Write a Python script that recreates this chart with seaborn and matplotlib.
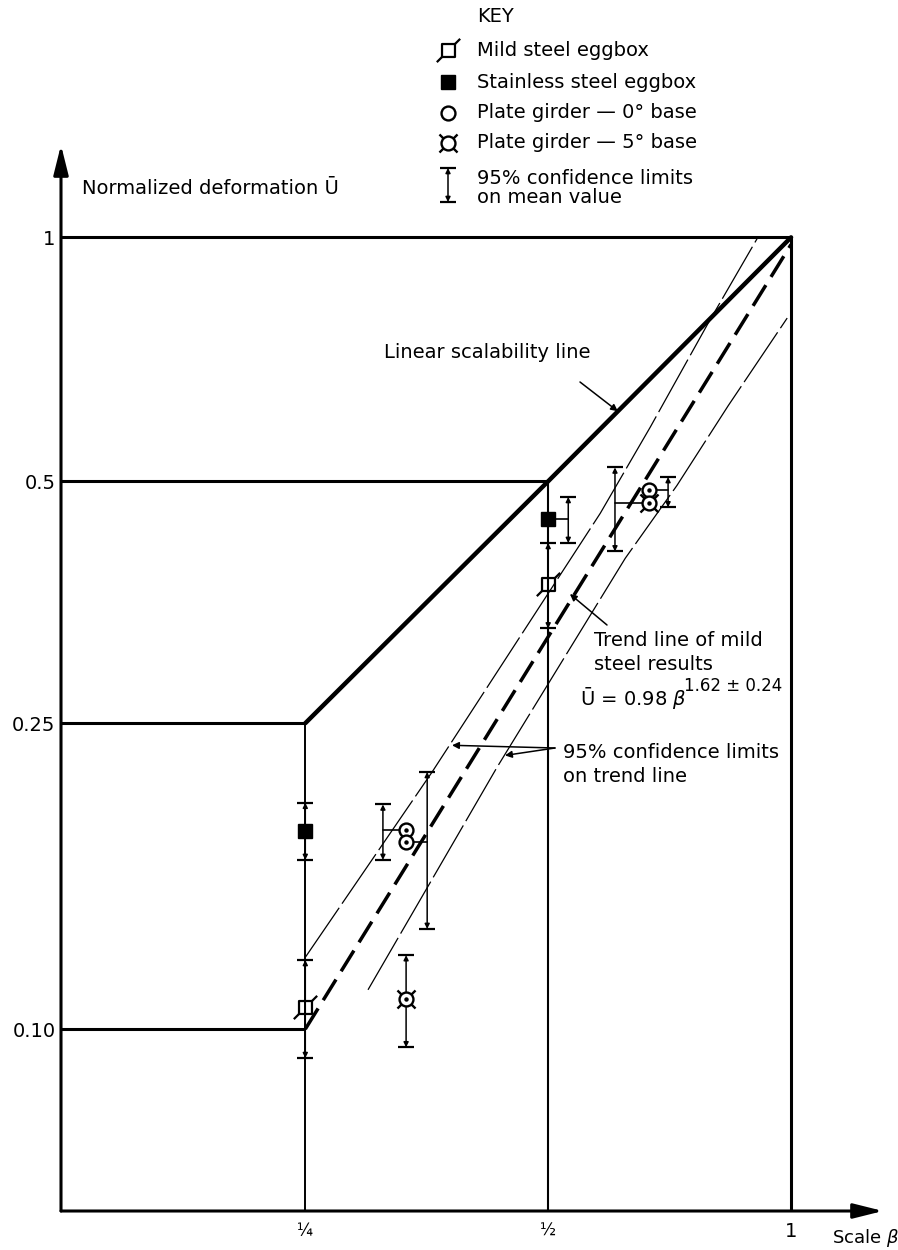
import numpy as np
import matplotlib
matplotlib.use("Agg")
import matplotlib.pyplot as plt
from matplotlib.path import Path
import seaborn as sns

sns.set_style("white")
plt.rcParams["font.family"] = ["DejaVu Sans"]
plt.rcParams["mathtext.fontset"] = "dejavusans"
plt.rcParams["text.color"] = "black"

# frame of the diagram
guide_u = [1.0, 0.5, 0.25, 0.10]
guide_u_stop = [1.0, 0.5, 0.25, 0.25]
guide_beta = [0.25, 0.5, 1.0]

linear_beta = [0.25, 0.5, 1.0]
linear_u = [0.25, 0.5, 1.0]

trend_beta = [0.25, 1.0]
trend_u = [0.10, 0.98]

# 95% limits on the trend line
upper_beta = [0.25, 0.359, 0.580, 0.669, 0.789, 0.908]
upper_u = [0.124, 0.216, 0.456, 0.583, 0.783, 0.997]
lower_beta = [0.299, 0.432, 0.623, 0.722, 0.836, 0.989]
lower_u = [0.1125, 0.219, 0.401, 0.494, 0.620, 0.795]

# results: point, then scale where its 95% bar is drawn and the bar limits
mild_beta = [0.25, 0.5]
mild_u = [0.107, 0.372]
mild_ci_beta = [0.25, 0.5]
mild_ci_lo = [0.0917, 0.328]
mild_ci_hi = [0.123, 0.419]

stain_beta = [0.25, 0.5]
stain_u = [0.181, 0.449]
stain_ci_beta = [0.25, 0.5295]
stain_ci_lo = [0.166, 0.419]
stain_ci_hi = [0.197, 0.478]

pg0_beta = [1 / 3, 1 / 3, 2 / 3]
pg0_u = [0.1815, 0.175, 0.4875]
pg0_ci_beta = [0.312, 0.354, 0.704]
pg0_ci_lo = [0.166, 0.135, 0.464]
pg0_ci_hi = [0.196, 0.216, 0.506]

pg5_beta = [1 / 3, 2 / 3]
pg5_u = [0.1094, 0.4695]
pg5_ci_beta = [1 / 3, 0.605]
pg5_ci_lo = [0.0947, 0.409]
pg5_ci_hi = [0.1248, 0.520]

x_ticks = [0.25, 0.5, 1.0]
x_tick_labels = ["¼", "½", "1"]
y_ticks = [0.10, 0.25, 0.5, 1.0]
y_tick_labels = ["0.10", "0.25", "0.5", "1"]

key_labels = ["Mild steel eggbox", "Stainless steel eggbox",
              "Plate girder — 0° base", "Plate girder — 5° base",
              "95% confidence limits\non mean value"]

# the hand drawn U axis is not a clean log scale: piecewise log
Y_LOG = np.array([-2.0, -1.0, np.log10(0.25), np.log10(0.5), 0.0, 1.0])
Y_POS = np.array([-1798.0, -1029.0, -723.0, -481.0, -237.0, 573.6])


def fwd(u):
    return np.interp(np.log10(np.clip(u, 1e-6, None)), Y_LOG, Y_POS)


def inv(p):
    return 10 ** np.interp(p, Y_POS, Y_LOG)


M, L, C = Path.MOVETO, Path.LINETO, Path.CLOSEPOLY
mild_marker = Path([(-1, -1), (1, -1), (1, 1), (-1, 1), (-1, -1),
                    (-1.8, -1.8), (-1, -1), (1, 1), (1.8, 1.8)],
                   [M, L, L, L, C, M, L, M, L])
spoke_marker = Path([(-1, -1), (-.55, -.55), (1, 1), (.55, .55),
                     (-1, 1), (-.55, .55), (1, -1), (.55, -.55)],
                    [M, L] * 4)

W, H = 898, 1250
fig = plt.figure(figsize=(W / 100, H / 100), dpi=100)
ax = fig.add_axes([61 / W, 39 / H, 822 / W, 1066 / H])
ax.set_xscale("log", base=2)
ax.set_yscale("function", functions=(fwd, inv))

# overlay in pixel coordinates for the free text
kax = fig.add_axes([0, 0, 1, 1])
kax.set_xlim(0, W)
kax.set_ylim(H, 0)
kax.axis("off")
kax.patch.set_alpha(0)

# frame lines
for u, stop in zip(guide_u, guide_u_stop):
    ax.plot([0.1245, stop], [u, u], color="k", lw=2.2, solid_capstyle="butt", zorder=1)
for b, w in zip(guide_beta, [1.4, 1.5, 2.2]):
    ax.plot([b, b], [0.058, b], color="k", lw=w, solid_capstyle="butt", zorder=1)

sns.lineplot(x=linear_beta, y=linear_u, ax=ax, color="k", lw=3.2,
             sort=False, estimator=None, zorder=2)
sns.lineplot(x=trend_beta, y=trend_u, ax=ax, color="k", lw=2.5,
             sort=False, estimator=None, linestyle=(0, (7, 2.8)), zorder=2)
for bb, uu in [(upper_beta, upper_u), (lower_beta, lower_u)]:
    sns.lineplot(x=bb, y=uu, ax=ax, color="k", lw=0.9, sort=False,
                 estimator=None, linestyle=(0, (48, 4)), zorder=2)


def bars(pb, pu, cb, lo, hi):
    for b, u, x, l, h in zip(pb, pu, cb, lo, hi):
        if abs(x - b) > 1e-6:
            ax.plot([b, x], [u, u], color="k", lw=1.2, zorder=3)
        ax.annotate("", xy=(x, h), xytext=(x, l), xycoords="data",
                    arrowprops=dict(arrowstyle="<|-|>", color="k", lw=1.1,
                                    mutation_scale=7, shrinkA=0, shrinkB=0),
                    zorder=3)
        ax.plot([x, x], [l, h], ls="none", marker="_", ms=11, mew=1.6,
                color="k", zorder=3)


bars(mild_beta, mild_u, mild_ci_beta, mild_ci_lo, mild_ci_hi)
bars(stain_beta, stain_u, stain_ci_beta, stain_ci_lo, stain_ci_hi)
bars(pg0_beta, pg0_u, pg0_ci_beta, pg0_ci_lo, pg0_ci_hi)
bars(pg5_beta, pg5_u, pg5_ci_beta, pg5_ci_lo, pg5_ci_hi)


def draw_markers(a, kind, xs, ys, dot=True):
    if kind == "mild":
        a.plot(xs, ys, ls="none", marker=mild_marker, ms=16.8, mfc="none",
               mec="k", mew=1.6, zorder=5)
    elif kind == "stain":
        a.plot(xs, ys, ls="none", marker="s", ms=9.4, color="k", zorder=5)
    else:
        if kind == "pg5":
            a.plot(xs, ys, ls="none", marker=spoke_marker, ms=13, mec="k",
                   mew=1.7, zorder=5)
        a.plot(xs, ys, ls="none", marker="o", ms=10, mfc="white", mec="k",
               mew=1.7, zorder=6)
        if dot:
            a.plot(xs, ys, ls="none", marker="o", ms=2.2, color="k", zorder=7)


draw_markers(ax, "mild", mild_beta, mild_u)
draw_markers(ax, "stain", stain_beta, stain_u)
draw_markers(ax, "pg0", pg0_beta, pg0_u)
draw_markers(ax, "pg5", pg5_beta, pg5_u)

# axes
ax.set_xlim(0.1245, 1.30)
ax.set_ylim(0.058, 1.30)
for s in ax.spines.values():
    s.set_visible(False)
ax.set_facecolor("white")
axis_arrow = dict(arrowstyle="-|>,head_length=1.8,head_width=0.45", color="k",
                  lw=2.2, mutation_scale=10, shrinkA=0, shrinkB=0)
ax.annotate("", xy=(0, 1), xytext=(0, 0), xycoords="axes fraction",
            arrowprops=axis_arrow)
ax.annotate("", xy=(1, 0), xytext=(0, 0), xycoords="axes fraction",
            arrowprops=axis_arrow)

ax.set_xticks(x_ticks, x_tick_labels)
ax.set_yticks(y_ticks, y_tick_labels)
ax.minorticks_off()
ax.tick_params(axis="both", length=0, labelsize=14, colors="k")
ax.tick_params(axis="x", pad=8)
ax.tick_params(axis="y", pad=4)
for t in ax.get_xticklabels()[:2]:
    t.set_fontsize(12)

# labels
kax.text(82, 188, "Normalized deformation Ū", fontsize=14, va="center")
kax.text(832, 1238, r"Scale $\beta$", fontsize=13, va="center")

kax.text(590, 352, "Linear scalability line", fontsize=14, va="center", ha="right")
ax.annotate("", xy=(0.61, 0.61), xytext=(580, 382), textcoords=kax.transData,
            arrowprops=dict(arrowstyle="-|>", color="k", lw=1.1, mutation_scale=10,
                            shrinkA=0, shrinkB=0))

kax.text(594, 640, "Trend line of mild", fontsize=14, va="center")
kax.text(594, 665, "steel results", fontsize=14, va="center")
kax.text(580, 698, r"Ū = 0.98 $\beta$", fontsize=14, va="center")
kax.text(684, 686, "1.62 ± 0.24", fontsize=12, va="center")
ax.annotate("", xy=(0.532, 0.362), xytext=(607, 625), textcoords=kax.transData,
            arrowprops=dict(arrowstyle="-|>", color="k", lw=1.1, mutation_scale=10,
                            shrinkA=0, shrinkB=0))

kax.text(563, 752, "95% confidence limits", fontsize=14, va="center")
kax.text(563, 776, "on trend line", fontsize=14, va="center")
for tip in [(0.380, 0.234), (0.442, 0.227)]:
    ax.annotate("", xy=tip, xytext=(555, 748), textcoords=kax.transData,
                arrowprops=dict(arrowstyle="-|>", color="k", lw=1.1,
                                mutation_scale=10, shrinkA=0, shrinkB=0))

# key
kax.text(477, 17, "KEY", fontsize=14, va="center")
key_y = [50, 82, 113, 143]
for kind, yk in zip(["mild", "stain", "pg0", "pg5"], key_y):
    draw_markers(kax, kind, [448], [yk], dot=False)
for lab, yk in zip(key_labels[:4], key_y):
    kax.text(477, yk, lab, fontsize=14, va="center")
kax.text(477, 188, key_labels[4], fontsize=14, va="center", linespacing=1.05)
kax.annotate("", xy=(448, 168), xytext=(448, 202),
             arrowprops=dict(arrowstyle="<|-|>", color="k", lw=1.1,
                             mutation_scale=7, shrinkA=0, shrinkB=0))
kax.plot([448, 448], [168, 202], ls="none", marker="_", ms=11, mew=1.6, color="k")

fig.savefig("out.png", dpi=100, facecolor="white")
